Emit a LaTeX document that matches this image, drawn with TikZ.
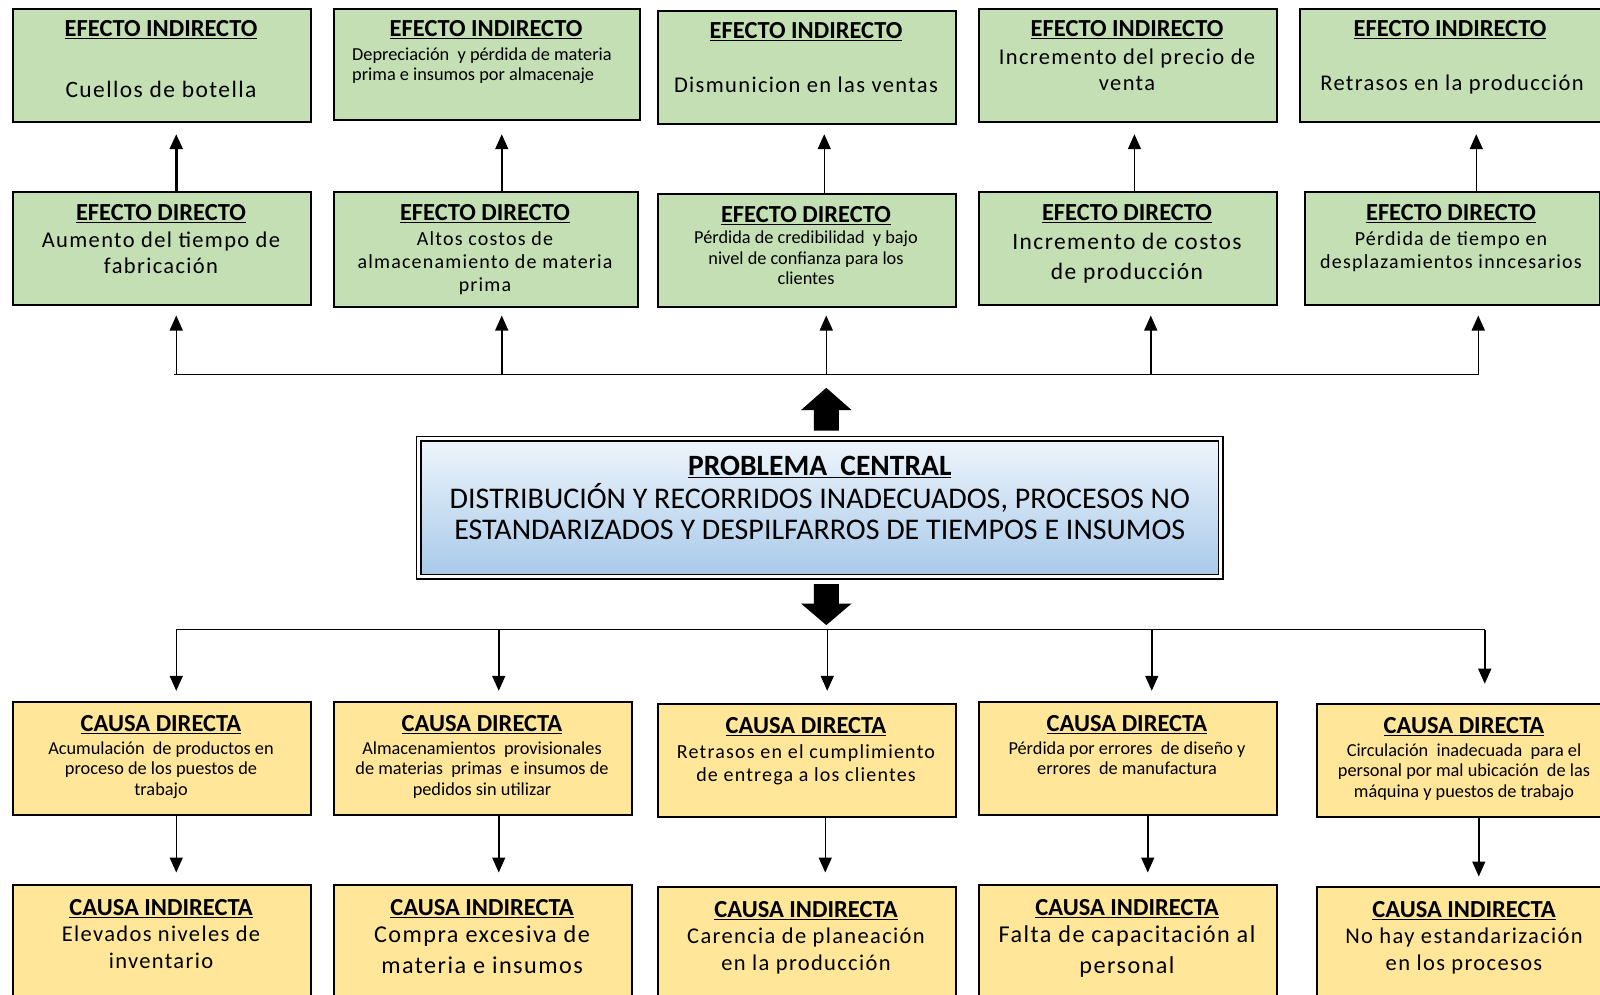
\documentclass[tikz,border=0pt]{standalone}
\usepackage{fontspec}
\setmainfont{Carlito}
\newfontfamily\spc[LetterSpace=6]{Carlito}
\usetikzlibrary{arrows.meta,calc}
\definecolor{grn}{HTML}{C4DFB4}
\definecolor{ylw}{HTML}{FFE699}
\definecolor{bltop}{HTML}{EEF5FC}
\definecolor{blbot}{HTML}{A8C9E9}
\newcommand\ulin[1]{\leavevmode\setbox0\hbox{#1}\rlap{\rule[-2.6pt]{\wd0}{1.4pt}}\box0}
\newcommand\bx[6]{\node[box, fill=#2, minimum width={#5-#3}, minimum height={#6-#4}] (#1) at (#3,#4) {};}
\begin{document}
\begin{tikzpicture}[x=1pt,y=-1pt,
  box/.style={draw=black, line width=1.5pt, inner sep=0pt, anchor=north west},
  hdr/.style={anchor=base, inner sep=0pt, font=\bfseries\fontsize{24.5}{26}\selectfont},
  sm/.style={anchor=base, inner sep=0pt, align=center, font=\fontsize{18.3}{20.4}\selectfont},
  md/.style={anchor=base, inner sep=0pt, align=center, font=\spc\fontsize{20}{23.4}\selectfont},
  lg/.style={anchor=base, inner sep=0pt, align=center, font=\spc\fontsize{22.5}{26.5}\selectfont},
  lgw/.style={anchor=base, inner sep=0pt, align=center, font=\spc\fontsize{24.2}{30.6}\selectfont},
  conn/.style={line width=1.5pt},
  arr/.style={line width=1.5pt, -{Triangle[length=15pt,width=13pt]}},
]
\useasboundingbox[fill=white] (0,0) rectangle (1600,994);

% ---------- effects: indirect ----------
\bx{EI1}{grn}{12}{8}{310}{121}
\bx{EI2}{grn}{333}{8}{639}{119}
\bx{EI3}{grn}{657}{10}{955}{123}
\bx{EI4}{grn}{978}{8}{1276}{121}
\bx{EI5}{grn}{1299}{8}{1610}{121}
% ---------- effects: direct ----------
\bx{ED1}{grn}{12}{191}{310}{304}
\bx{ED2}{grn}{333}{191}{637}{306}
\bx{ED3}{grn}{657}{193}{955}{306}
\bx{ED4}{grn}{978}{191}{1276}{304}
\bx{ED5}{grn}{1304}{191}{1599}{304}
% ---------- causes: direct ----------
\bx{CD1}{ylw}{12}{701}{310}{814}
\bx{CD2}{ylw}{333}{701}{631}{814}
\bx{CD3}{ylw}{657}{703}{955}{816}
\bx{CD4}{ylw}{978}{701}{1276}{814}
\bx{CD5}{ylw}{1316}{703}{1610}{816}
% ---------- causes: indirect ----------
\bx{CI1}{ylw}{12}{884}{310}{1010}
\bx{CI2}{ylw}{333}{884}{631}{1010}
\bx{CI3}{ylw}{657}{886}{955}{1010}
\bx{CI4}{ylw}{978}{884}{1276}{1010}
\bx{CI5}{ylw}{1316}{886}{1610}{1010}

% ---------- central problem ----------
\node[anchor=north west, inner sep=0pt, minimum width=802pt, minimum height=138pt,
  top color=bltop, bottom color=blbot, draw=black, line width=1.6pt,
  double=white, double distance=3pt] (C) at (418,438) {};

% ---------- texts: indirect effects ----------
\node[hdr] (EI1h) at (161,36.7) {\ulin{EFECTO INDIRECTO}};
\node[lg, font=\spc\fontsize{23.5}{26.5}\selectfont]  (EI1t) at (161,97) {Cuellos de botella};
\node[hdr] (EI2h) at (486,36.7) {\ulin{EFECTO INDIRECTO}};
\node[sm, align=left, anchor=base west] (EI2t) at (352,80.6) {Depreciación \ y pérdida de materia\\prima e insumos por almacenaje};
\node[hdr] (EI3h) at (806,38.8) {\ulin{EFECTO INDIRECTO}};
\node[lg]  (EI3t) at (806,92.9) {Dismunicion en las ventas};
\node[hdr] (EI4h) at (1127,36.7) {\ulin{EFECTO INDIRECTO}};
\node[lg]  (EI4t) at (1127,90.8) {Incremento del precio de\\venta};
\node[hdr] (EI5h) at (1450,36.7) {\ulin{EFECTO INDIRECTO}};
\node[lg]  (EI5t) at (1452,90.8) {Retrasos en la producción};

% ---------- texts: direct effects ----------
\node[hdr] (ED1h) at (161,220.4) {\ulin{EFECTO DIRECTO}};
\node[lg]  (ED1t) at (161,273.5) {Aumento del tiempo de\\fabricación};
\node[hdr] (ED2h) at (485,220.4) {\ulin{EFECTO DIRECTO}};
\node[md]  (ED2t) at (485,291.8) {Altos costos de\\almacenamiento de materia\\prima};
\node[hdr] (ED3h) at (806,222.4) {\ulin{EFECTO DIRECTO}};
\node[sm]  (ED3t) at (806,284.7) {Pérdida de credibilidad \ y bajo\\nivel de confianza para los\\clientes};
\node[hdr] (ED4h) at (1127,220.4) {\ulin{EFECTO DIRECTO}};
\node[lgw, font=\spc\fontsize{23.5}{30.6}\selectfont] (ED4t) at (1127,279.6) {Incremento de costos\\de producción};
\node[hdr] (ED5h) at (1451,220.4) {\ulin{EFECTO DIRECTO}};
\node[md]  (ED5t) at (1451,268.4) {Pérdida de tiempo en\\desplazamientos inncesarios};

% ---------- central texts ----------
\node[hdr, font=\bfseries\fontsize{29.5}{31}\selectfont] (Ch) at (C.center |- 0,475.5) {\ulin{PROBLEMA \ CENTRAL}};
\node[anchor=base, inner sep=0pt, align=center, font=\fontsize{30}{31.6}\selectfont] (Ct) at (C.center |- 0,539.8)
  {DISTRIBUCIÓN Y RECORRIDOS INADECUADOS, PROCESOS NO\\ESTANDARIZADOS Y DESPILFARROS DE TIEMPOS E INSUMOS};

% ---------- texts: direct causes ----------
\node[hdr] (CD1h) at (161,731.6) {\ulin{CAUSA DIRECTA}};
\node[sm]  (CD1t) at (161,795) {Acumulación \ de productos en\\proceso de los puestos de\\trabajo};
\node[hdr] (CD2h) at (482,731.6) {\ulin{CAUSA DIRECTA}};
\node[sm]  (CD2t) at (482,795) {Almacenamientos \ provisionales\\de materias \ primas \ e insumos de\\pedidos sin utilizar};
\node[hdr] (CD3h) at (806,733.7) {\ulin{CAUSA DIRECTA}};
\node[md]  (CD3t) at (806,781.6) {Retrasos en el cumplimiento\\de entrega a los clientes};
\node[hdr] (CD4h) at (1127,731.6) {\ulin{CAUSA DIRECTA}};
\node[sm]  (CD4t) at (1127,774.5) {Pérdida por errores \ de diseño y\\errores \ de manufactura};
\node[hdr] (CD5h) at (1464,733.7) {\ulin{CAUSA DIRECTA}};
\node[sm]  (CD5t) at (1464,797) {Circulación \ inadecuada \ para el\\personal por mal ubicación \ de las\\máquina y puestos de trabajo};

% ---------- texts: indirect causes ----------
\node[hdr] (CI1h) at (161,915.3) {\ulin{CAUSA INDIRECTA}};
\node[lg]  (CI1t) at (161,968.4) {Elevados niveles de\\inventario};
\node[hdr] (CI2h) at (482,915.3) {\ulin{CAUSA INDIRECTA}};
\node[lgw] (CI2t) at (482,973.5) {Compra excesiva de\\materia e insumos};
\node[hdr] (CI3h) at (806,917.3) {\ulin{CAUSA INDIRECTA}};
\node[lg]  (CI3t) at (806,970.4) {Carencia de planeación\\en la producción};
\node[hdr] (CI4h) at (1127,915.3) {\ulin{CAUSA INDIRECTA}};
\node[lgw] (CI4t) at (1127,973.5) {Falta de capacitación al\\personal};
\node[hdr] (CI5h) at (1464,917.3) {\ulin{CAUSA INDIRECTA}};
\node[lg]  (CI5t) at (1464,970.4) {No hay estandarización\\en los procesos};

% ---------- connectors: direct -> indirect effects ----------
\draw[arr, line width=2.6pt, shorten >=11.7pt] ([xshift=14.5pt]ED1.north) -- ([xshift=14.5pt]ED1.north |- EI1.south);
\draw[arr, shorten >=13.7pt] ([xshift=16pt]ED2.north) -- ([xshift=16pt]ED2.north |- EI2.south);
\draw[arr, shorten >=9.7pt] ([xshift=17.5pt]ED3.north) -- ([xshift=17.5pt]ED3.north |- EI3.south);
\draw[arr, shorten >=11.7pt] ([xshift=6.7pt]ED4.north) -- ([xshift=6.7pt]ED4.north |- EI4.south);
\draw[arr, shorten >=11.7pt] ([xshift=24pt]ED5.north) -- ([xshift=24pt]ED5.north |- EI5.south);

% ---------- effects bus ----------
\coordinate (busE) at (0,374.5);
\draw[conn] ([xshift=12.5pt]ED1.south |- busE) -- ([xshift=27.1pt]ED5.south |- busE);
\draw[arr, shorten >=10pt] ([xshift=14.5pt]ED1.south |- busE) -- ([xshift=14.5pt]ED1.south);
\draw[arr, shorten >=8pt]  ([xshift=16pt]ED2.south |- busE) -- ([xshift=16pt]ED2.south);
\draw[arr, shorten >=8pt]  ([xshift=19.5pt]ED3.south |- busE) -- ([xshift=19.5pt]ED3.south);
\draw[arr, shorten >=10pt] ([xshift=23pt]ED4.south |- busE) -- ([xshift=23pt]ED4.south);
\draw[arr, shorten >=10pt] ([xshift=26pt]ED5.south |- busE) -- ([xshift=26pt]ED5.south);

% ---------- block arrows ----------
\coordinate (upA) at ($(C.north)+(6.5,0)$);
\coordinate (dnA) at ($(C.south)+(6.5,0)$);
\fill ($(upA)+(-12.5,-7.4)$) -- ++(0,-20.6) -- ++(-12.7,0) -- ($(upA)+(0,-50.2)$)
  -- ($(upA)+(25.2,-28)$) -- ++(-12.7,0) -- ++(0,20.6) -- cycle;
\fill ($(dnA)+(-12.5,6.6)$) -- ++(0,19.4) -- ++(-12.7,0) -- ($(dnA)+(0,47.5)$)
  -- ($(dnA)+(25.2,26)$) -- ++(-12.7,0) -- ++(0,-19.4) -- cycle;

% ---------- causes bus ----------
\coordinate (busC) at (0,629.6);
\draw[conn] ([xshift=14.5pt]CD1.north |- busC) -- ([xshift=21pt]CD5.north |- busC);
\draw[arr, shorten >=10.2pt] ([xshift=14.5pt]CD1.north |- busC) -- ([xshift=14.5pt]CD1.north);
\draw[arr, shorten >=10.2pt] ([xshift=16pt]CD2.north |- busC) -- ([xshift=16pt]CD2.north);
\draw[arr, shorten >=12.2pt] ([xshift=20.5pt]CD3.north |- busC) -- ([xshift=20.5pt]CD3.north);
\draw[arr, shorten >=10.2pt] ([xshift=24pt]CD4.north |- busC) -- ([xshift=24pt]CD4.north);
\draw[arr, shorten >=19.3pt] ([xshift=21pt]CD5.north |- busC) -- ([xshift=21pt]CD5.north);

% ---------- connectors: direct -> indirect causes ----------
\draw[arr, shorten >=11.5pt] ([xshift=14.5pt]CD1.south) -- ([xshift=14.5pt]CD1.south |- CI1.north);
\draw[arr, shorten >=11.5pt] ([xshift=16pt]CD2.south) -- ([xshift=16pt]CD2.south |- CI2.north);
\draw[arr, shorten >=13.5pt] ([xshift=18.5pt]CD3.south) -- ([xshift=18.5pt]CD3.south |- CI3.north);
\draw[arr, shorten >=11.5pt] ([xshift=20pt]CD4.south) -- ([xshift=20pt]CD4.south |- CI4.north);
\draw[arr, shorten >=9.5pt]  ([xshift=15pt]CD5.south) -- ([xshift=15pt]CD5.south |- CI5.north);
\end{tikzpicture}
\end{document}
